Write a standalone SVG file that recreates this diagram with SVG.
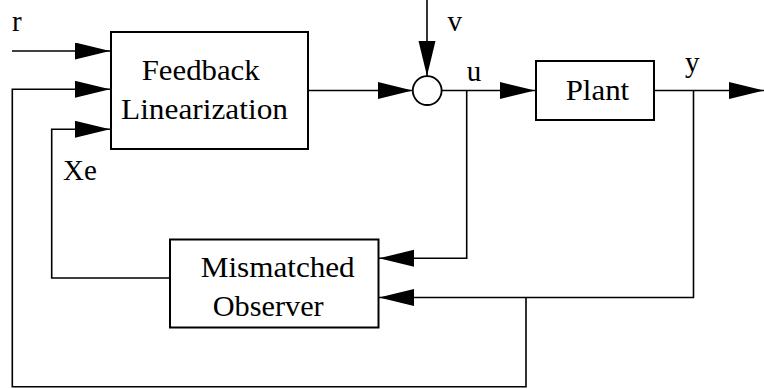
<svg xmlns="http://www.w3.org/2000/svg" width="764" height="389" viewBox="0 0 764 389">
<style>
.box{fill:#fff;stroke:#000;stroke-width:2}
.ln{fill:none;stroke:#000;stroke-width:1.6}
.arr{marker-end:url(#ah)}
.t{font-family:"Times New Roman",Times,"Liberation Serif","Nimbus Roman","Tinos","DejaVu Serif",serif;font-size:29px;fill:#000}
</style>
<defs>
<marker id="ah" markerUnits="userSpaceOnUse" markerWidth="36" markerHeight="18" refX="35" refY="8.5" orient="auto">
<path d="M0,0 L35,8.5 L0,17 z" fill="#000"/>
</marker>
</defs>
<g id="connectors">
<path class="ln arr" d="M12,51 H110"/>
<path class="ln arr" d="M526,297.5 V386.7 H12.3 V89.3 H110"/>
<path class="ln arr" d="M170,278 H51.7 V129.3 H110"/>
<path class="ln arr" d="M308,90.5 H412.5"/>
<path class="ln arr" d="M427,0 V76"/>
<path class="ln arr" d="M441.7,90.5 H535"/>
<path class="ln arr" d="M466.7,90.5 V258.3 H379"/>
<path class="ln arr" d="M654,90.5 H764"/>
<path class="ln arr" d="M693.5,90.5 V297.5 H379"/>
</g>
<g id="feedback-linearization">
<rect class="box" x="111" y="32" width="197" height="117"/>
<text class="t" x="141.7" y="80" textLength="118" lengthAdjust="spacingAndGlyphs">Feedback</text>
<text class="t" x="121" y="119" textLength="167" lengthAdjust="spacingAndGlyphs">Linearization</text>
</g>
<g id="sum">
<circle cx="427.2" cy="90.6" r="14.4" fill="#fff" stroke="#000" stroke-width="1.8"/>
</g>
<g id="plant">
<rect class="box" x="536" y="61" width="118" height="59"/>
<text class="t" x="565.7" y="100" textLength="63.5" lengthAdjust="spacingAndGlyphs">Plant</text>
</g>
<g id="mismatched-observer">
<rect class="box" x="170" y="239.5" width="208.5" height="88"/>
<text class="t" x="200.7" y="277.3" textLength="154" lengthAdjust="spacingAndGlyphs">Mismatched</text>
<text class="t" x="212.7" y="316" textLength="111" lengthAdjust="spacingAndGlyphs">Observer</text>
</g>
<g id="labels">
<text class="t" x="12" y="31">r</text>
<text class="t" x="63" y="180">Xe</text>
<text class="t" x="447.5" y="31">v</text>
<text class="t" x="466.7" y="81">u</text>
<text class="t" x="685" y="71.7">y</text>
</g>
</svg>
